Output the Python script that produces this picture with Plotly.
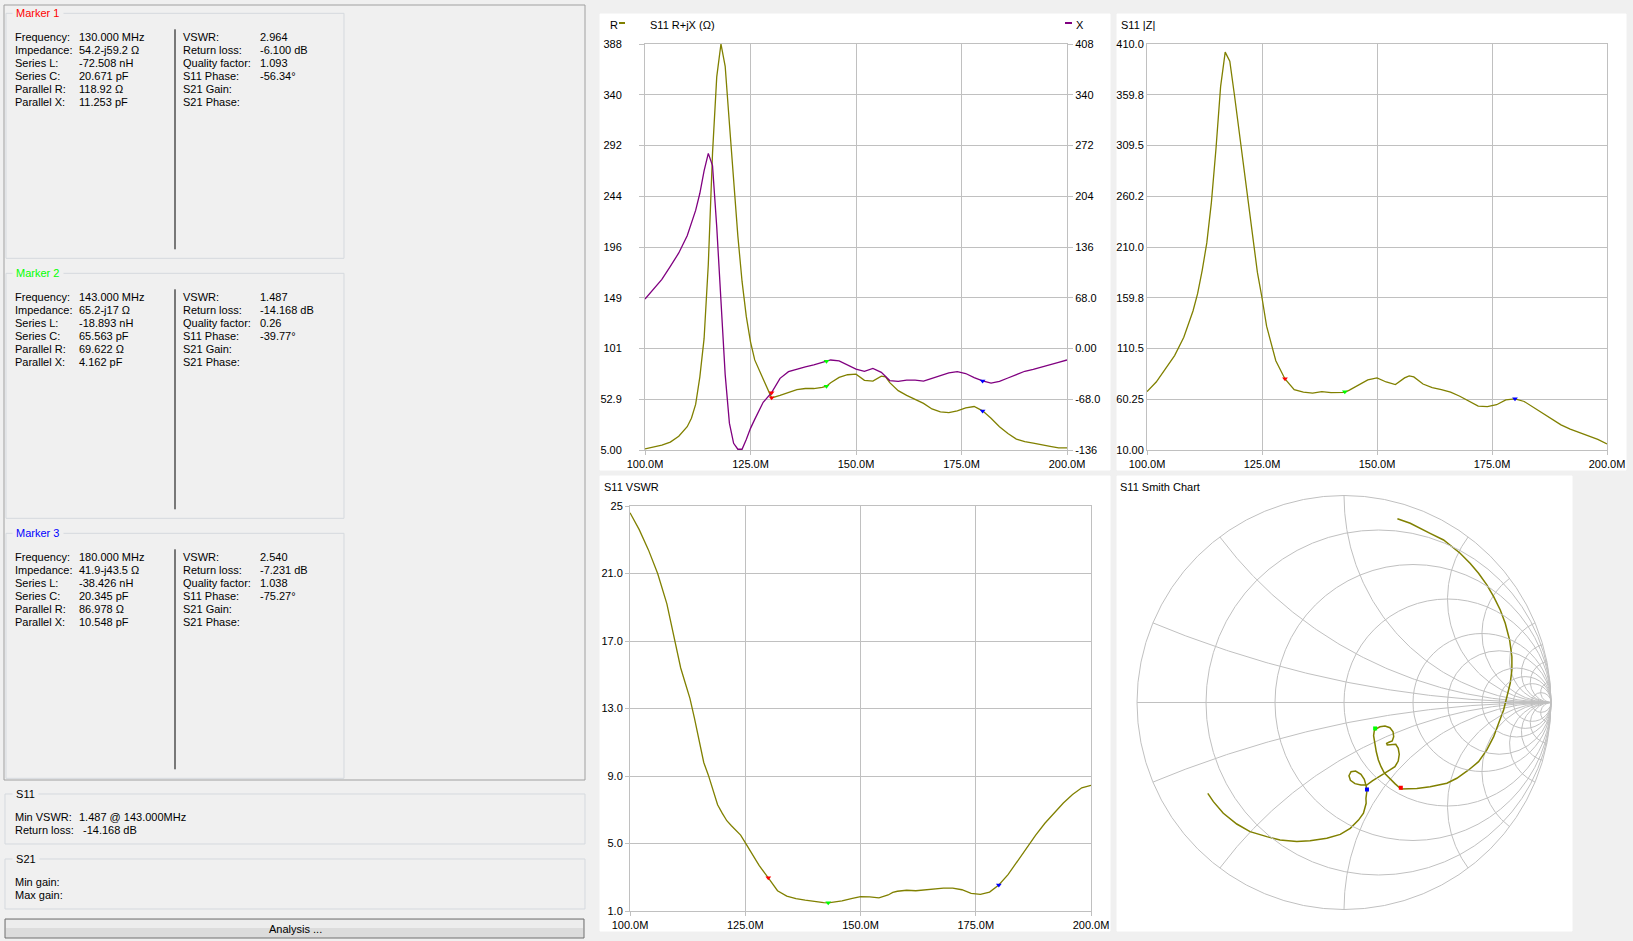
import numpy as np
import plotly.graph_objects as go

W, H = 1633, 941


def fx(px):
    return px / W


def fy(py):
    return 1 - py / H


# ---- sweep data ----
freq = [100, 102, 104, 106, 108, 110, 111, 112, 113, 114, 115, 116, 117, 118, 119, 120,
        121, 122, 123, 124, 125, 126, 128, 130, 132, 134, 136, 138, 140, 142, 143, 144,
        146, 148, 150, 152, 154, 156, 157, 158, 160, 162, 164, 166, 168, 170, 172, 174,
        176, 178, 180, 182, 184, 186, 188, 190, 192, 194, 196, 198, 200]

r_ohm = [6, 7.5, 9.5, 12.5, 18, 27, 35, 48, 74, 110, 180, 285, 357, 388, 367, 313,
         260, 207, 164, 131, 107, 90, 72, 54.2, 56.5, 59.5, 62, 63, 63, 64, 65.2, 68.5,
         73.5, 76, 76.5, 70.7, 70, 74.7, 74, 68.5, 61, 56.5, 53, 49, 43.7, 41, 40.3, 42,
         44.8, 46, 41.9, 35, 27, 20.5, 15.3, 13, 11.5, 10.3, 8.5, 7, 7]

x_ohm = [66.3, 79, 92.5, 110, 128, 151, 167, 185, 208, 238, 261.5, 245, 163, 65, -35, -100,
         -127, -135, -135, -122, -107, -95, -72, -59.2, -40, -31, -27.5, -24.5, -22, -18.5, -17, -15.4,
         -16.5, -22, -27.5, -30.5, -26.8, -32, -38, -43, -44, -42.5, -42.5, -43.6, -40, -36, -32.8, -31,
         -33.5, -39, -43.5, -46.5, -44, -39.5, -35, -30.5, -28, -24.5, -22, -18.5, -15.4]

z_mag = [67.5, 77, 90, 103, 121, 147, 164, 187, 214, 254, 307, 368, 402, 393, 360, 325,
         290, 250, 215, 185, 160, 132, 98, 80, 69.5, 67, 66, 67.5, 66.5, 66.3, 66.8, 69,
         74, 79, 81, 77, 74.5, 81, 83, 82, 75, 71.5, 69.5, 67, 63, 58, 53.2, 52.7,
         54.6, 59.3, 60.3, 57.8, 52, 46, 40, 34.8, 30.5, 27, 23.8, 20.4, 16]

vswr = [24.6, 23.6, 22.4, 21.0, 19.2, 16.6, 15.4, 14.5, 13.6, 12.4, 11.1, 9.8, 9.05, 8.1, 7.3, 6.8,
        6.35, 6.05, 5.8, 5.5, 5.05, 4.6, 3.7, 2.964, 2.2, 1.88, 1.73, 1.64, 1.55, 1.5, 1.487, 1.52,
        1.6, 1.73, 1.85, 1.84, 1.78, 1.95, 2.1, 2.17, 2.23, 2.2, 2.25, 2.34, 2.36, 2.36, 2.26, 2.05,
        1.99, 2.12, 2.54, 3.15, 3.95, 4.75, 5.5, 6.2, 6.8, 7.4, 7.9, 8.3, 8.45]

# reflection coefficient path traced on the Smith chart
smith_re = [0.258, 0.320, 0.416, 0.481, 0.561, 0.610, 0.650, 0.690, 0.723, 0.755, 0.779, 0.800,
            0.811, 0.811, 0.803, 0.787, 0.771, 0.747, 0.723, 0.690, 0.650, 0.602, 0.545, 0.497,
            0.416, 0.352, 0.275, 0.246, 0.219, 0.195, 0.179, 0.166, 0.156, 0.150, 0.143, 0.146,
            0.153, 0.174, 0.198, 0.222, 0.237, 0.240, 0.233, 0.217, 0.206, 0.209, 0.226, 0.250,
            0.262, 0.267, 0.262, 0.246, 0.222, 0.195, 0.166, 0.137, 0.110, 0.082, 0.053, 0.031,
            0.024, 0.034, 0.056, 0.082, 0.098, 0.106, 0.111, 0.106, 0.107, 0.094, 0.070, 0.030,
            -0.018, -0.083, -0.164, -0.228, -0.309, -0.373, -0.454, -0.518, -0.583, -0.631, -0.658]
smith_im = [0.888, 0.866, 0.817, 0.785, 0.721, 0.672, 0.624, 0.568, 0.511, 0.447, 0.383, 0.302,
            0.221, 0.157, 0.093, 0.028, -0.036, -0.100, -0.165, -0.229, -0.286, -0.326, -0.366, -0.390,
            -0.407, -0.415, -0.418, -0.392, -0.366, -0.341, -0.310, -0.278, -0.238, -0.197, -0.160, -0.138,
            -0.128, -0.117, -0.114, -0.122, -0.141, -0.165, -0.186, -0.192, -0.197, -0.205, -0.205, -0.202,
            -0.221, -0.250, -0.283, -0.310, -0.326, -0.341, -0.360, -0.379, -0.399, -0.399, -0.392, -0.376,
            -0.354, -0.334, -0.331, -0.347, -0.371, -0.399, -0.424, -0.463, -0.487, -0.535, -0.568, -0.608,
            -0.637, -0.656, -0.668, -0.672, -0.664, -0.648, -0.624, -0.587, -0.535, -0.479, -0.439]

# markers
marker_names = ["Marker 1", "Marker 2", "Marker 3"]
marker_colors = ["#ff0000", "#00ff00", "#0000ff"]
marker_freq = [130, 143, 180]
marker_r = [54.2, 65.2, 41.9]
marker_x = [-59.2, -17, -43.5]
marker_vswr = [2.964, 1.487, 2.540]

left_labels = ["Frequency:", "Impedance:", "Series L:", "Series C:", "Parallel R:", "Parallel X:"]
right_labels = ["VSWR:", "Return loss:", "Quality factor:", "S11 Phase:", "S21 Gain:", "S21 Phase:"]
left_values = [
    ["130.000 MHz", "54.2-j59.2 Ω", "-72.508 nH", "20.671 pF", "118.92 Ω", "11.253 pF"],
    ["143.000 MHz", "65.2-j17 Ω", "-18.893 nH", "65.563 pF", "69.622 Ω", "4.162 pF"],
    ["180.000 MHz", "41.9-j43.5 Ω", "-38.426 nH", "20.345 pF", "86.978 Ω", "10.548 pF"],
]
right_values = [
    ["2.964", "-6.100 dB", "1.093", "-56.34°", "", ""],
    ["1.487", "-14.168 dB", "0.26", "-39.77°", "", ""],
    ["2.540", "-7.231 dB", "1.038", "-75.27°", "", ""],
]

freq_ticks = [100, 125, 150, 175, 200]
freq_tick_text = ["100.0M", "125.0M", "150.0M", "175.0M", "200.0M"]
r_ticks = [5, 52.875, 100.75, 148.625, 196.5, 244.375, 292.25, 340.125, 388]
r_tick_text = ["5.00", "52.9", "101", "149", "196", "244", "292", "340", "388"]
x_ticks = [-136, -68, 0, 68, 136, 204, 272, 340, 408]
x_tick_text = ["-136", "-68.0", "0.00", "68.0", "136", "204", "272", "340", "408"]
z_ticks = [10, 60, 110, 160, 210, 260, 310, 360, 410]
z_tick_text = ["10.00", "60.25", "110.5", "159.8", "210.0", "260.2", "309.5", "359.8", "410.0"]
vswr_ticks = [1, 5, 9, 13, 17, 21, 25]
vswr_tick_text = ["1.0", "5.0", "9.0", "13.0", "17.0", "21.0", "25"]

smith_r_circles = [0, 0.2, 0.5, 1, 2, 3, 5, 7, 10, 20]
smith_x_arcs = [0.2, 0.5, 1, 2, 3, 5, 7, 10, 20]

OLIVE = "#808000"
PURPLE = "#800080"
GRID = "#c0c0c0"

fig = go.Figure()

# ---- R + jX ----
fig.add_trace(go.Scatter(x=freq, y=r_ohm, xaxis="x", yaxis="y", mode="lines",
                         line=dict(color=OLIVE, width=1.3)))
fig.add_trace(go.Scatter(x=freq, y=x_ohm, xaxis="x", yaxis="y2", mode="lines",
                         line=dict(color=PURPLE, width=1.3)))
fig.add_trace(go.Scatter(x=marker_freq, y=marker_r, xaxis="x", yaxis="y", mode="markers",
                         marker=dict(symbol="triangle-down", size=5, color=marker_colors)))
fig.add_trace(go.Scatter(x=marker_freq, y=marker_x, xaxis="x", yaxis="y2", mode="markers",
                         marker=dict(symbol="triangle-down", size=5, color=marker_colors)))

# ---- |Z| ----
marker_z = [abs(complex(r, x)) for r, x in zip(marker_r, marker_x)]
fig.add_trace(go.Scatter(x=freq, y=z_mag, xaxis="x2", yaxis="y3", mode="lines",
                         line=dict(color=OLIVE, width=1.3)))
fig.add_trace(go.Scatter(x=marker_freq, y=marker_z, xaxis="x2", yaxis="y3", mode="markers",
                         marker=dict(symbol="triangle-down", size=5, color=marker_colors)))

# ---- VSWR ----
fig.add_trace(go.Scatter(x=freq, y=vswr, xaxis="x3", yaxis="y4", mode="lines",
                         line=dict(color=OLIVE, width=1.3)))
fig.add_trace(go.Scatter(x=marker_freq, y=marker_vswr, xaxis="x3", yaxis="y4", mode="markers",
                         marker=dict(symbol="triangle-down", size=5, color=marker_colors)))

# ---- Smith chart grid ----
r_sweep = np.concatenate([[0], np.logspace(-2.5, 3.5, 500)])
for xv in smith_x_arcs:
    for sign in (1, -1):
        g = (r_sweep + 1j * sign * xv - 1) / (r_sweep + 1j * sign * xv + 1)
        fig.add_trace(go.Scatter(x=g.real, y=g.imag, xaxis="x4", yaxis="y5", mode="lines",
                                 line=dict(color=GRID, width=1), hoverinfo="skip"))
for r in smith_r_circles:
    fig.add_shape(type="circle", xref="x4", yref="y5",
                  x0=(r - 1) / (r + 1), x1=1, y0=-1 / (r + 1), y1=1 / (r + 1),
                  line=dict(color=GRID, width=1))
fig.add_shape(type="line", xref="x4", yref="y5", x0=-1, x1=1, y0=0, y1=0,
              line=dict(color=GRID, width=1))

fig.add_trace(go.Scatter(x=smith_re, y=smith_im, xaxis="x4", yaxis="y5", mode="lines",
                         line=dict(color=OLIVE, width=1.5)))
marker_g = [(complex(r, x) - 50) / (complex(r, x) + 50) for r, x in zip(marker_r, marker_x)]
fig.add_trace(go.Scatter(x=[g.real for g in marker_g], y=[g.imag for g in marker_g],
                         xaxis="x4", yaxis="y5", mode="markers",
                         marker=dict(symbol="square", size=4, color=marker_colors)))


def freq_axis(x0, x1, anchor):
    return dict(domain=[fx(x0), fx(x1)], anchor=anchor, range=[100, 200],
                tickvals=freq_ticks, ticktext=freq_tick_text,
                showgrid=True, gridcolor=GRID, gridwidth=1, zeroline=False,
                showline=True, mirror=True, linecolor=GRID, linewidth=1,
                ticks="outside", ticklen=4, tickcolor=GRID, fixedrange=True,
                automargin=False)


def value_axis(y0, y1, anchor, rng, vals, text, ticklen=5, standoff=0):
    return dict(domain=[fy(y1), fy(y0)], anchor=anchor, range=rng,
                tickvals=vals, ticktext=text,
                showgrid=True, gridcolor=GRID, gridwidth=1, zeroline=False,
                showline=True, mirror=True, linecolor=GRID, linewidth=1,
                ticks="outside" if ticklen else "", ticklen=ticklen, tickcolor=GRID,
                ticklabelstandoff=standoff, fixedrange=True, automargin=False)


smith_half = 1.01 * 207
fig.update_layout(
    width=W, height=H, autosize=False,
    margin=dict(l=0, r=0, t=0, b=0, pad=0, autoexpand=False),
    paper_bgcolor="#f0f0f0",
    plot_bgcolor="white",
    showlegend=False,
    font=dict(family="Liberation Sans", size=11, color="black"),
    xaxis=freq_axis(645, 1067, "y"),
    yaxis=value_axis(44, 450, "x", [5, 388], r_ticks, r_tick_text, 5, 15),
    yaxis2=dict(overlaying="y", side="right", anchor="x", range=[-136, 408],
                tickvals=x_ticks, ticktext=x_tick_text, showgrid=False, zeroline=False,
                ticks="outside", ticklen=5, tickcolor=GRID, fixedrange=True, automargin=False),
    xaxis2=freq_axis(1147, 1607, "y3"),
    yaxis3=value_axis(44, 450, "x2", [10, 410], z_ticks, z_tick_text, 0, 0),
    xaxis3=freq_axis(630, 1091, "y4"),
    yaxis4=value_axis(506, 911, "x3", [1, 25], vswr_ticks, vswr_tick_text, 4, 0),
    xaxis4=dict(domain=[fx(1344 - smith_half), fx(1344 + smith_half)], anchor="y5",
                range=[-1.01, 1.01], visible=False, fixedrange=True, automargin=False),
    yaxis5=dict(domain=[fy(702.5 + smith_half), fy(702.5 - smith_half)], anchor="x4",
                range=[-1.01, 1.01], visible=False, fixedrange=True, automargin=False),
)


def panel(x0, y0, x1, y1, fill, line=None):
    fig.add_shape(type="rect", xref="paper", yref="paper", layer="below",
                  x0=fx(x0), x1=fx(x1), y0=fy(y1), y1=fy(y0), fillcolor=fill,
                  line=dict(color=line or fill, width=1))


def hline(x0, x1, y, color, width=1):
    fig.add_shape(type="line", xref="paper", yref="paper", x0=fx(x0), x1=fx(x1),
                  y0=fy(y), y1=fy(y), line=dict(color=color, width=width))


def text(px, py, s, color="black", anchor="left", bg=None):
    fig.add_annotation(x=fx(px), y=fy(py), xref="paper", yref="paper", text=s,
                       showarrow=False, xanchor=anchor, yanchor="middle",
                       font=dict(color=color, size=11), bgcolor=bg, borderpad=0)


# chart panels
panel(600, 14, 1110, 470, "white")
panel(1117, 14, 1626, 470, "white")
panel(600, 476, 1110, 931, "white")
panel(1117, 476, 1572, 931, "white")

text(609, 25, "R")
hline(619, 625, 23, OLIVE, 2)
text(649, 25, "S11 R+jX (Ω)")
hline(1065, 1072, 23, PURPLE, 2)
text(1075, 25, "X")
text(1120, 25, "S11 |Z|")
text(603, 487, "S11 VSWR")
text(1119, 487, "S11 Smith Chart")

# left side: marker boxes
fig.add_shape(type="rect", xref="paper", yref="paper", x0=fx(4), x1=fx(585), y0=fy(780), y1=fy(5),
              line=dict(color="#a0a0a0", width=1))
for i, name in enumerate(marker_names):
    top = 13.3 + 260 * i
    fig.add_shape(type="rect", xref="paper", yref="paper", x0=fx(6), x1=fx(344),
                  y0=fy(top + 245), y1=fy(top), line=dict(color="#d5d9de", width=1))
    text(12, top, " " + name + " ", marker_colors[i], bg="#f0f0f0")
    fig.add_shape(type="line", xref="paper", yref="paper", x0=fx(175), x1=fx(175),
                  y0=fy(top + 236), y1=fy(top + 16), line=dict(color="black", width=1))
    for j in range(6):
        row = top + 23.4 + 13 * j
        text(14, row, left_labels[j])
        text(78, row, left_values[i][j])
        text(182, row, right_labels[j])
        if right_values[i][j]:
            text(259, row, right_values[i][j])

# S11 / S21 summary boxes
for top, bottom, title, rows in [
    (794, 844, "S11", [("Min VSWR:", "1.487 @ 143.000MHz", 78), ("Return loss:", "-14.168 dB", 82)]),
    (859, 909, "S21", [("Min gain:", "", 78), ("Max gain:", "", 78)]),
]:
    fig.add_shape(type="rect", xref="paper", yref="paper", x0=fx(5), x1=fx(585),
                  y0=fy(bottom), y1=fy(top), line=dict(color="#d5d9de", width=1))
    text(12, top, " " + title + " ", bg="#f0f0f0")
    for k, (lab, val, vx) in enumerate(rows):
        text(14, top + 23 + 13 * k, lab)
        if val:
            text(vx, top + 23 + 13 * k, val)

# Analysis button
panel(5, 919, 584, 938, "#dcdcdc", "#707070")
fig.add_shape(type="rect", xref="paper", yref="paper", x0=fx(6), x1=fx(583),
              y0=fy(928), y1=fy(920), fillcolor="#ededed", line=dict(width=0))
text(295, 929, "Analysis ...", anchor="center")

fig.write_html("out.html", config={"displayModeBar": False},
               post_script="document.body.style.margin='0';document.body.style.overflow='hidden';")
